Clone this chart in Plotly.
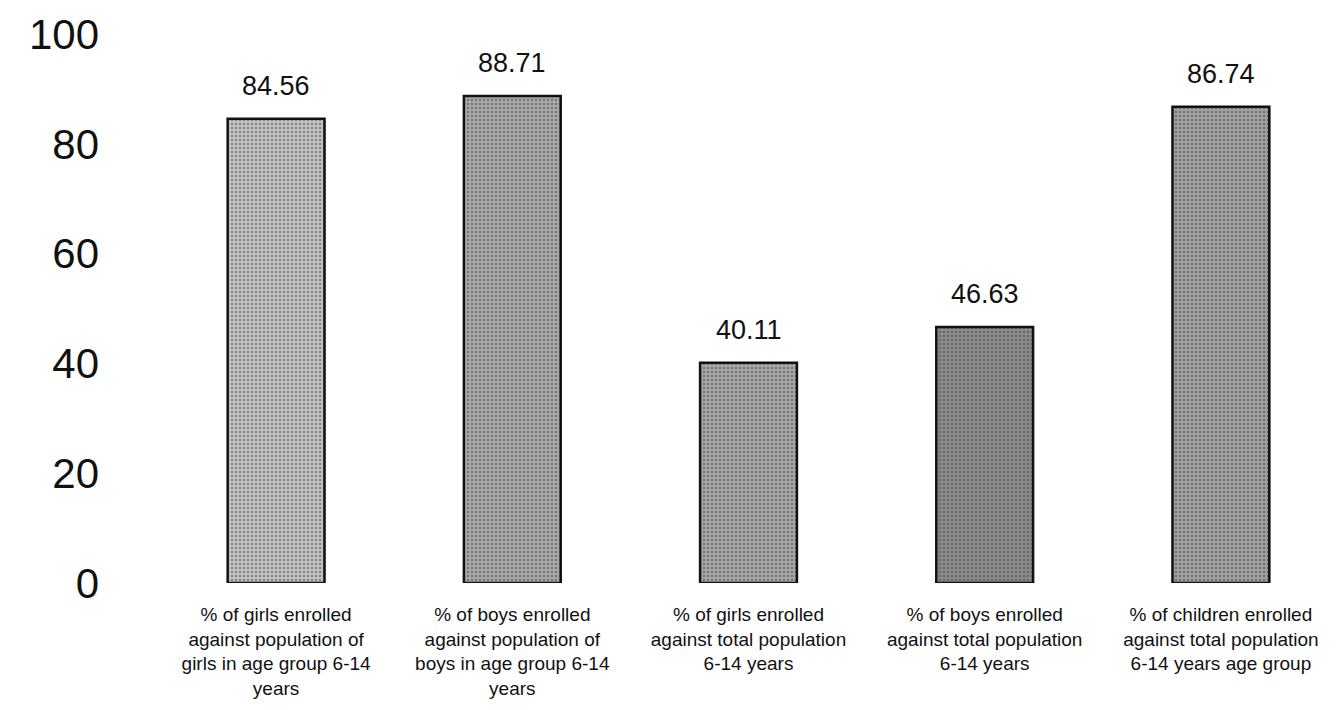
import plotly.graph_objects as go

categories = [
    "% of girls enrolled<br>against population of<br>girls in age group 6-14<br>years",
    "% of boys enrolled<br>against population of<br>boys in age group 6-14<br>years",
    "% of girls enrolled<br>against total population<br>6-14 years",
    "% of boys enrolled<br>against total population<br>6-14 years",
    "% of children enrolled<br>against total population<br>6-14 years age group",
]
values = [84.56, 88.71, 40.11, 46.63, 86.74]
value_labels = ["84.56", "88.71", "40.11", "46.63", "86.74"]
bar_bg = ["#c4c4c4", "#aaaaaa", "#a8a8a8", "#8c8c8c", "#a2a2a2"]
y_ticks = [0, 20, 40, 60, 80, 100]

FONT = "Liberation Sans, Arial, sans-serif"

fig = go.Figure()
fig.add_trace(go.Bar(
    x=categories,
    y=values,
    width=0.41,
    marker=dict(
        color=bar_bg,
        line=dict(color="#111111", width=2.5),
        pattern=dict(shape=".", fgcolor="#3a3a3a", bgcolor=bar_bg, size=4, solidity=0.35),
    ),
    hoverinfo="skip",
))

for c, v, t in zip(categories, values, value_labels):
    fig.add_annotation(x=c, y=v, text=t, showarrow=False, yanchor="bottom",
                       yshift=16, font=dict(family=FONT, size=27, color="#111111"))

# the page body adds an 8px offset, so the figure is 8px smaller and margins compensate
fig.update_layout(
    width=1331, height=702,
    margin=dict(l=150, r=0, t=26, b=127),
    plot_bgcolor="white", paper_bgcolor="white",
    showlegend=False,
    font=dict(family=FONT, color="#111111"),
    xaxis=dict(
        showline=False, showgrid=False, zeroline=False, ticks="",
        tickfont=dict(family=FONT, size=19, color="#111111"),
        ticklabelstandoff=18, automargin=False,
    ),
    yaxis=dict(
        range=[0, 100], tickvals=y_ticks, ticktext=[str(v) for v in y_ticks],
        showline=False, showgrid=False, zeroline=False, ticks="",
        tickfont=dict(family=FONT, size=42, color="#111111"),
        ticklabelstandoff=58, automargin=False, ticklabeloverflow="allow",
    ),
)

fig.write_html("out.html")
